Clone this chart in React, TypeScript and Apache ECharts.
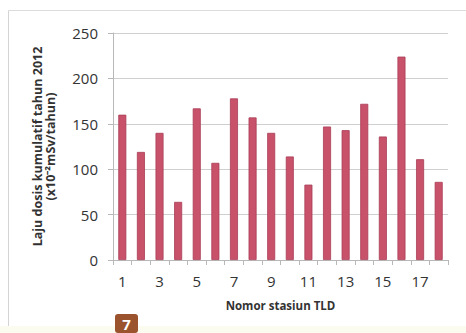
import React, { useEffect, useRef } from "react";
import * as echarts from "echarts";

const stations = ["1","2","3","4","5","6","7","8","9","10","11","12","13","14","15","16","17","18"];
const doseRate = [160, 119, 140, 64, 167, 107, 178, 157, 140, 114, 83, 147, 143, 172, 136, 224, 111, 86];
const yTicks = { min: 0, max: 250, interval: 50 };
const yTitle = "Laju dosis kumulatif tahun 2012\n(x10⁻²mSv/tahun)";
const xTitle = "Nomor stasiun TLD";
const badgeText = "7";

export default function App() {
  const ref = useRef<HTMLDivElement>(null);
  useEffect(() => {
    const chart = echarts.init(ref.current!, null, { renderer: "svg" });
    chart.setOption({
      animation: false,
      backgroundColor: "#ffffff",
      grid: { left: 113, right: 18, top: 33, bottom: 73, containLabel: false },
      graphic: [
        { type: "line", shape: { x1: 8.5, y1: 10.5, x2: 466, y2: 10.5 }, style: { stroke: "#dcdcdc", lineWidth: 1 } },
        { type: "line", shape: { x1: 8.5, y1: 10.5, x2: 8.5, y2: 333 }, style: { stroke: "#d4d4d4", lineWidth: 1 } },
        { type: "rect", shape: { x: 0, y: 326, width: 466, height: 7 }, style: { fill: "#fcfbf0" } },
        { type: "rect", shape: { x: 115, y: 314, width: 23, height: 19, r: 3 }, style: { fill: "#9a532d" } },
        { type: "text", x: 126.5, y: 324, style: { text: badgeText, fill: "#ffffff", font: "bold 15px 'Open Sans', sans-serif", align: "center", verticalAlign: "middle" } }
      ],
      xAxis: {
        type: "category",
        data: stations,
        boundaryGap: true,
        name: xTitle,
        nameLocation: "middle",
        nameGap: 39,
        nameTextStyle: { fontFamily: "'Open Sans', sans-serif", fontWeight: "bold", fontSize: 11.5, color: "#333" },
        axisLine: { lineStyle: { color: "#b8b8b8", width: 1 } },
        axisTick: { show: true, alignWithLabel: false, interval: 0, length: 5, lineStyle: { color: "#b8b8b8" } },
        axisLabel: { interval: 1, margin: 13, fontFamily: "'Open Sans', sans-serif", fontSize: 15, color: "#333" }
      },
      yAxis: {
        type: "value",
        min: yTicks.min,
        max: yTicks.max,
        interval: yTicks.interval,
        name: yTitle,
        nameLocation: "middle",
        nameGap: 56,
        nameRotate: 90,
        nameTextStyle: { fontFamily: "'Open Sans', sans-serif", fontWeight: "bold", fontSize: 12.5, color: "#333", lineHeight: 13, align: "center" },
        axisLine: { show: true, lineStyle: { color: "#b8b8b8", width: 1 } },
        axisTick: { show: true, length: 5, lineStyle: { color: "#b8b8b8" } },
        axisLabel: { margin: 15, fontFamily: "'Open Sans', sans-serif", fontSize: 15, color: "#333" },
        splitLine: { show: true, lineStyle: { color: "#cfcfcf", width: 1 } }
      },
      series: [
        {
          type: "bar",
          data: doseRate,
          barWidth: 8,
          itemStyle: { color: "#c9526b", borderColor: "#a83c55", borderWidth: 0.8 }
        }
      ]
    });
    return () => chart.dispose();
  }, []);
  return <div ref={ref} style={{ width: 466, height: 333, position: "absolute", left: 0, top: 0 }} />;
}
